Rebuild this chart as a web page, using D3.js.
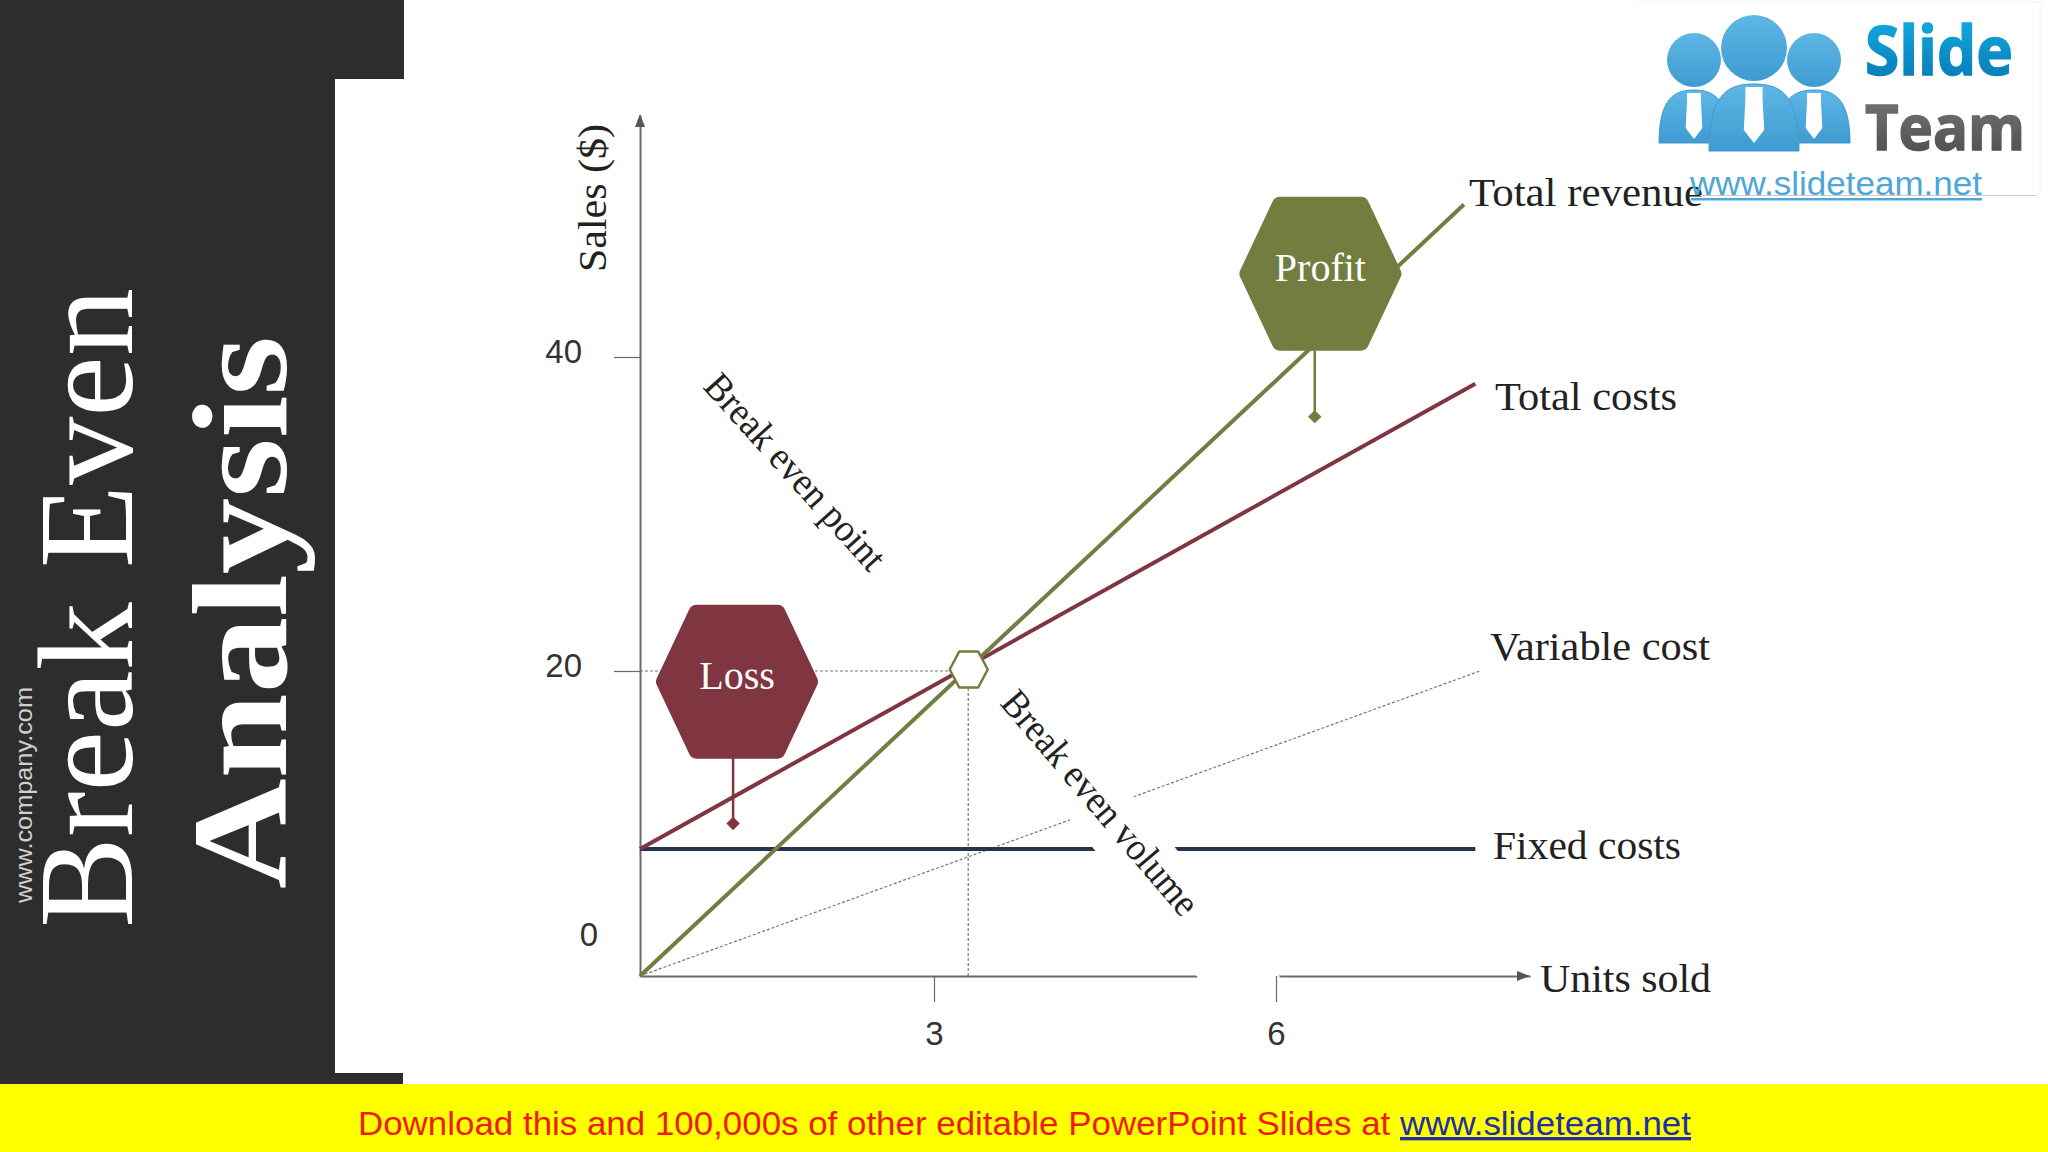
<!DOCTYPE html>
<html>
<head>
<meta charset='utf-8'>
<title>Break Even Analysis</title>
<style>
  body { margin: 0; background: #fff; }
  svg { display: block; }
  .serif { font-family: 'Liberation Serif', serif; }
  .sans { font-family: 'Liberation Sans', sans-serif; }
</style>
<script src='https://d3js.org/d3.v4.min.js'></script>
</head>
<body>
<div id="container"></div>
<script>
  // ******* Data (units sold, sales) *******
  const xStops = [0, 3, 6, 8.23];
  const yStops = [0, 20, 40, 55.4];
  const xTicks = [3, 6];
  const yTicks = [0, 20, 40];
  const seriesNames = ['Total revenue', 'Total costs', 'Variable cost', 'Fixed costs'];
  const totalRevenue = [[0, 0], [7.65, 49.7]];
  const totalCosts = [[0, 8.33], [7.75, 38.3]];
  const variableCost = [[0, 0], [7.79, 20.0]];
  const fixedCosts = [[0, 8.33], [7.75, 8.33]];
  const breakEven = [3.3, 20];
  const lossCentre = [0.99, 19.3];
  const lossStem = [0.95, 10];
  const profitCentre = [6.39, 45.3];
  const profitStem = [6.34, 36.2];

  const width = 2048, height = 1152;
  const svg = d3.select("#container").append("svg")
      .attr("width", width)
      .attr("height", height);

  const x = d3.scaleLinear().domain(xStops).range([640, 934, 1276, 1530]);
  const y = d3.scaleLinear().domain(yStops).range([976, 671, 357, 115]);
  const line = d3.line().x(d => x(d[0])).y(d => y(d[1]));

  const OLIVE = "#727d3f", WINE = "#7f3640", NAVY = "#26344f", DARK = "#2d2d2d", AXIS = "#6a6a6a";

  // ******* Side panel and footer *******
  svg.append("rect").attr("width", 335).attr("height", 1085).attr("fill", DARK);
  svg.append("rect").attr("width", 404).attr("height", 79).attr("fill", DARK);
  svg.append("rect").attr("y", 1073).attr("width", 403).attr("height", 12).attr("fill", DARK);
  svg.append("rect").attr("y", 1084).attr("width", width).attr("height", 68).attr("fill", "#ffff00");

  function sideText(txt, px, py, size, len, cls, fill, weight) {
    svg.append("text")
        .attr("class", cls)
        .attr("transform", `translate(${px},${py}) rotate(-90)`)
        .attr("font-size", size)
        .attr("font-weight", weight || "normal")
        .attr("fill", fill)
        .attr("textLength", len)
        .attr("lengthAdjust", "spacingAndGlyphs")
        .text(txt);
  }
  sideText("Break Even", 132, 928, 135, 640, "serif", "#fff");
  sideText("Analysis", 286, 889, 135, 553, "serif", "#fff", "bold");
  sideText("www.company.com", 32, 903, 24, 216, "sans", "#d0d0d0");

  const footer = svg.append("text").attr("class", "sans")
      .attr("x", 358).attr("y", 1135).attr("font-size", 33.5)
      .attr("textLength", 1333).attr("lengthAdjust", "spacingAndGlyphs");
  footer.append("tspan").attr("fill", "#ee1c0c")
      .text("Download this and 100,000s of other editable PowerPoint Slides at ");
  footer.append("tspan").attr("fill", "#1f2fa8").attr("text-decoration", "underline")
      .text("www.slideteam.net");

  // ******* Lines *******
  svg.append("path").attr("d", line(variableCost))
      .attr("fill", "none").attr("stroke", "#777").attr("stroke-width", 1.2).attr("stroke-dasharray", "3 2");

  // Dashed guides to the break even point
  svg.append("path").attr("d", line([[0, breakEven[1]], breakEven]))
      .attr("fill", "none").attr("stroke", "#777").attr("stroke-width", 1.2).attr("stroke-dasharray", "3 2");
  svg.append("path").attr("d", line([[breakEven[0], 0], breakEven]))
      .attr("fill", "none").attr("stroke", "#777").attr("stroke-width", 1.2).attr("stroke-dasharray", "3 2");

  // Axis lines
  svg.append("g").attr("transform", `translate(0,${y(0)})`)
      .call(d3.axisBottom(x).tickValues([]).tickSize(0));
  svg.append("g").attr("transform", `translate(${x(0)},0)`)
      .call(d3.axisLeft(y).tickValues([]).tickSize(0));
  svg.selectAll(".domain").attr("stroke", AXIS).attr("stroke-width", 2);

  svg.append("path").attr("d", line(fixedCosts))
      .attr("fill", "none").attr("stroke", NAVY).attr("stroke-width", 4);
  svg.append("path").attr("d", line(totalCosts))
      .attr("fill", "none").attr("stroke", WINE).attr("stroke-width", 4);
  svg.append("path").attr("d", line(totalRevenue))
      .attr("fill", "none").attr("stroke", OLIVE).attr("stroke-width", 4);

  // Arrow heads
  svg.append("path").attr("fill", "#555")
      .attr("d", `M${x(0)},${y(55.4) - 1}l-5,13h10z`);
  svg.append("path").attr("fill", "#555")
      .attr("d", `M${x(8.23)},${y(0)}l-13,-5v10z`);

  // White box behind the rotated label, it cuts the lines under it
  svg.append("rect")
      .attr("transform", "translate(1135,849) rotate(51)")
      .attr("x", -215).attr("y", -32).attr("width", 430).attr("height", 64)
      .attr("fill", "#fff");

  // Ticks go over the white box
  const xAxis = svg.append("g").attr("transform", `translate(0,${y(0)})`)
      .call(d3.axisBottom(x).tickValues(xTicks).tickSize(26).tickPadding(20).tickSizeOuter(0));
  xAxis.select(".domain").remove();
  xAxis.selectAll(".tick line").attr("stroke", AXIS).attr("stroke-width", 1.2);
  xAxis.selectAll(".tick text").attr("font-size", 33).attr("fill", "#333")
      .attr("font-family", "'Liberation Sans', sans-serif");

  const yAxis = svg.append("g").attr("transform", `translate(${x(0)},0)`)
      .call(d3.axisLeft(y).tickValues(yTicks).tickSize(26).tickPadding(32).tickSizeOuter(0));
  yAxis.select(".domain").remove();
  yAxis.selectAll(".tick line").attr("stroke", AXIS).attr("stroke-width", 1.2);
  yAxis.selectAll(".tick text").attr("font-size", 33).attr("fill", "#333")
      .attr("font-family", "'Liberation Sans', sans-serif")
      .attr("dy", "0.18em");
  // The zero sits well above the origin in the source, and has no tick
  yAxis.selectAll(".tick").filter(d => d === 0).select("line").remove();
  yAxis.selectAll(".tick").filter(d => d === 0).select("text")
      .attr("x", -42).attr("y", -36);

  // ******* Hexagon markers *******
  function hexPath(w, h, inset) {
    const a = w * 0.5;
    return d3.line()([[-a, -h + inset], [a, -h + inset], [w - inset, 0], [a, h - inset], [-a, h - inset], [-w + inset, 0]]) + "Z";
  }
  function marker(centre, stem, colour, label) {
    const cx = x(centre[0]), cy = y(centre[1]);
    svg.append("path").attr("d", line([[stem[0], centre[1]], stem]))
        .attr("stroke", colour).attr("stroke-width", 2.5).attr("fill", "none");
    svg.append("path")
        .attr("d", d3.symbol().type(d3.symbolSquare).size(90)())
        .attr("transform", `translate(${x(stem[0])},${y(stem[1])}) rotate(45)`)
        .attr("fill", colour);
    svg.append("path")
        .attr("transform", `translate(${cx},${cy})`)
        .attr("d", hexPath(81, 77, 8))
        .attr("fill", colour).attr("stroke", colour)
        .attr("stroke-width", 16).attr("stroke-linejoin", "round");
    svg.append("text").attr("class", "serif")
        .attr("x", cx).attr("y", cy + 7)
        .attr("text-anchor", "middle").attr("font-size", 40).attr("fill", "#fff")
        .text(label);
  }
  marker(lossCentre, lossStem, WINE, "Loss");
  marker(profitCentre, profitStem, OLIVE, "Profit");

  svg.append("path")
      .attr("transform", `translate(${x(breakEven[0]) + 0.5},${y(breakEven[1]) - 1.5})`)
      .attr("d", hexPath(19, 18, 0))
      .attr("fill", "#fff").attr("stroke", OLIVE).attr("stroke-width", 2.5).attr("stroke-linejoin", "round");

  // ******* Labels *******
  function label(txt, px, py, len, rot) {
    svg.append("text").attr("class", "serif")
        .attr("transform", `translate(${px},${py}) rotate(${rot || 0})`)
        .attr("text-anchor", rot ? "middle" : "start")
        .attr("dy", "0.32em")
        .attr("font-size", 39).attr("fill", "#222")
        .attr("textLength", len).attr("lengthAdjust", "spacingAndGlyphs")
        .text(txt);
  }
  label(seriesNames[0], 1469, 194, 234);
  label(seriesNames[1], 1495, 398, 182);
  label(seriesNames[2], 1490, 648, 220);
  label(seriesNames[3], 1493, 847, 188);
  label("Units sold", 1540, 980, 171);
  label("Sales ($)", 594, 198, 148, -90);
  label("Break even point", 795, 472, 250, 48);
  label("Break even volume", 1100, 803, 282, 49.6);

  // ******* Logo *******
  const defs = svg.append("defs");
  function vGrad(id, top, bottom) {
    const g = defs.append("linearGradient").attr("id", id).attr("x1", 0).attr("x2", 0).attr("y1", 0).attr("y2", 1);
    g.append("stop").attr("offset", "0%").attr("stop-color", top);
    g.append("stop").attr("offset", "100%").attr("stop-color", bottom);
  }
  vGrad("slideGrad", "#16b5ea", "#0471ae");
  vGrad("teamGrad", "#7d7d7d", "#48484a");
  vGrad("personGrad", "#5db8e6", "#3f9ad0");

  const logo = svg.append("g");
  logo.append("path").attr("d", "M1637,2H2040V195").attr("fill", "none").attr("stroke", "#f2f2f2");
  logo.append("path").attr("d", "M1700,195.5H2037").attr("fill", "none").attr("stroke", "#ccc");

  function person(cx, headY, r, bodyW, bodyTop, bodyBottom) {
    logo.append("path")
        .attr("d", `M${cx - bodyW},${bodyBottom}C${cx - bodyW},${bodyTop + 8} ${cx - bodyW * 0.55},${bodyTop} ${cx},${bodyTop}C${cx + bodyW * 0.55},${bodyTop} ${cx + bodyW},${bodyTop + 8} ${cx + bodyW},${bodyBottom}Z`)
        .attr("fill", "url(#personGrad)").attr("stroke", "#3f9ad0");
    logo.append("circle").attr("cx", cx).attr("cy", headY).attr("r", r).attr("fill", "url(#personGrad)");
    const top = r * 0.26, low = r * 0.31;
    logo.append("path")
        .attr("d", `M${cx - top},${bodyTop + 3}h${2 * top}v${r * 0.35}L${cx + low},${bodyTop + 3 + r * 1.3}L${cx},${bodyTop + 3 + r * 1.7}L${cx - low},${bodyTop + 3 + r * 1.3}L${cx - top},${bodyTop + 3 + r * 0.35}z`)
        .attr("fill", "#fff");
  }
  person(1694, 60, 27, 35, 90, 143);
  person(1814, 60, 27, 36, 90, 143);
  person(1754, 48, 33, 45, 84, 151);

  logo.append("text").attr("font-family", "'Open Sans', sans-serif").attr("font-weight", "bold")
      .attr("x", 1865).attr("y", 75).attr("font-size", 68).attr("fill", "url(#slideGrad)")
      .attr("stroke", "url(#slideGrad)").attr("stroke-width", 1.5)
      .attr("textLength", 148).attr("lengthAdjust", "spacingAndGlyphs").text("Slide");
  logo.append("text").attr("font-family", "'Open Sans', sans-serif").attr("font-weight", "bold")
      .attr("x", 1865).attr("y", 150).attr("font-size", 63).attr("fill", "url(#teamGrad)")
      .attr("stroke", "url(#teamGrad)").attr("stroke-width", 1.5)
      .attr("textLength", 160).attr("lengthAdjust", "spacingAndGlyphs").text("Team");
  logo.append("text").attr("class", "sans")
      .attr("x", 1690).attr("y", 195).attr("font-size", 34).attr("fill", "#4fa6d8")
      .attr("textLength", 292).attr("lengthAdjust", "spacingAndGlyphs").text("www.slideteam.net");
  logo.append("rect").attr("x", 1691).attr("y", 198).attr("width", 291).attr("height", 2.5).attr("fill", "#4fa6d8");
</script>
</body>
</html>
